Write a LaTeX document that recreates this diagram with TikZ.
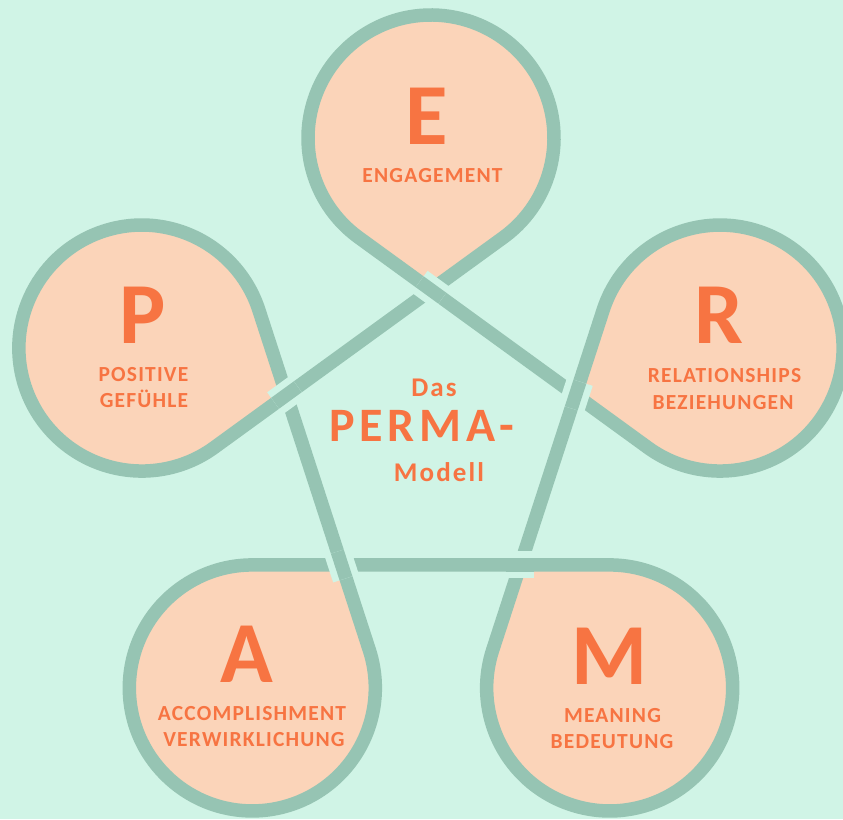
\documentclass[tikz,border=0pt]{standalone}
\usepackage{fontspec}
\setmainfont{Carlito}
\newfontfamily\labfont{Carlito}[LetterSpace=5.5]
\newfontfamily\dasfont{Carlito}[LetterSpace=8]
\newfontfamily\permafont{Carlito}[LetterSpace=10]
\usetikzlibrary{calc}
\definecolor{bgmint}{HTML}{D0F4E6}
\definecolor{knotgreen}{HTML}{96C4B3}
\definecolor{peach}{HTML}{FBD4B9}
\definecolor{txtorange}{HTML}{F77442}
\begin{document}
\begin{tikzpicture}[x=1pt,y=1pt,
  knot/.style={draw=knotgreen, line width=13.5pt, line join=round},
  gapline/.style={draw=bgmint, line width=27pt},
  loopfill/.style={fill=peach},
  bigletter/.style={text=txtorange, font=\fontsize{87}{87}\selectfont\bfseries, anchor=base, inner sep=0pt},
  perlabel/.style={text=txtorange, font=\labfont\fontsize{21.5}{22}\selectfont\bfseries, anchor=base, inner sep=0pt},
  centsmall/.style={text=txtorange, font=\dasfont\fontsize{27}{27}\selectfont\bfseries, anchor=base, inner sep=0pt},
  centbig/.style={text=txtorange, font=\permafont\fontsize{48}{48}\selectfont\bfseries, anchor=base, inner sep=0pt}]
\useasboundingbox (0,0) rectangle (843,819);
\clip (0,0) rectangle (843,819);
\fill[bgmint] (0,0) rectangle (843,819);
\coordinate (C) at (431,377);
\foreach \n/\t in {E/90,R/18,M/-54,A/-126,P/162}{
  \coordinate (V\n) at ($(C)+(\t:152)$);
  \coordinate (L\n) at ($(C)+(\t:304)$);
  \coordinate (S\n) at ($(L\n)+(\t-144:123)$);
}
% loop fills
\foreach \n/\t in {E/90,R/18,M/-54,A/-126,P/162}{
  \fill[loopfill] (V\n) -- (S\n) arc[start angle=\t-144, end angle=\t+144, radius=123pt] -- cycle;
}
% the knot
\draw[knot] (SE) arc[start angle=-54, end angle=234, radius=123pt]
  -- (SR) arc[start angle=-126, end angle=162, radius=123pt]
  -- (SM) arc[start angle=-198, end angle=90, radius=123pt]
  -- (SA) arc[start angle=-270, end angle=18, radius=123pt]
  -- (SP) arc[start angle=18, end angle=306, radius=123pt]
  -- cycle;
% crossings: outgoing strand passes over
\foreach \n/\t in {E/90,R/18,M/-54,A/-126,P/162}{
  \coordinate (Ca\n) at ($(V\n)+(\t+54:14)$);
  \coordinate (Cb\n) at ($(V\n)+(\t-126:14)$);
  \draw[gapline] (Ca\n) -- (Cb\n);
  \draw[knot] (Ca\n) -- (Cb\n);
}
% texts
\node[bigletter] (tE) at (427,674) {E};
\node[perlabel] (lE) at (432.5,636) {ENGAGEMENT};
\node[bigletter] (tP) at (142.5,475) {P};
\node[perlabel] (lP1) at (143.5,437) {POSITIVE};
\node[perlabel] (lP2) at (144,411) {GEFÜHLE};
\node[bigletter] (tR) at (718.5,475) {R};
\node[perlabel] (lR1) at (724.5,436) {RELATIONSHIPS};
\node[perlabel] (lR2) at (723,409) {BEZIEHUNGEN};
\node[bigletter] (tA) at (246.5,136) {A};
\node[perlabel] (lA1) at (252,98) {ACCOMPLISHMENT};
\node[perlabel] (lA2) at (254,72) {VERWIRKLICHUNG};
\node[bigletter] (tM) at (610,134) {M};
\node[perlabel] (lM1) at (612.5,96) {MEANING};
\node[perlabel] (lM2) at (612,70) {BEDEUTUNG};
\node[centsmall] (das) at (434,422) {Das};
\node[centbig] (perma) at (422,377) {PERMA-};
\node[centsmall] (modell) at (439,337) {Modell};
\end{tikzpicture}
\end{document}
